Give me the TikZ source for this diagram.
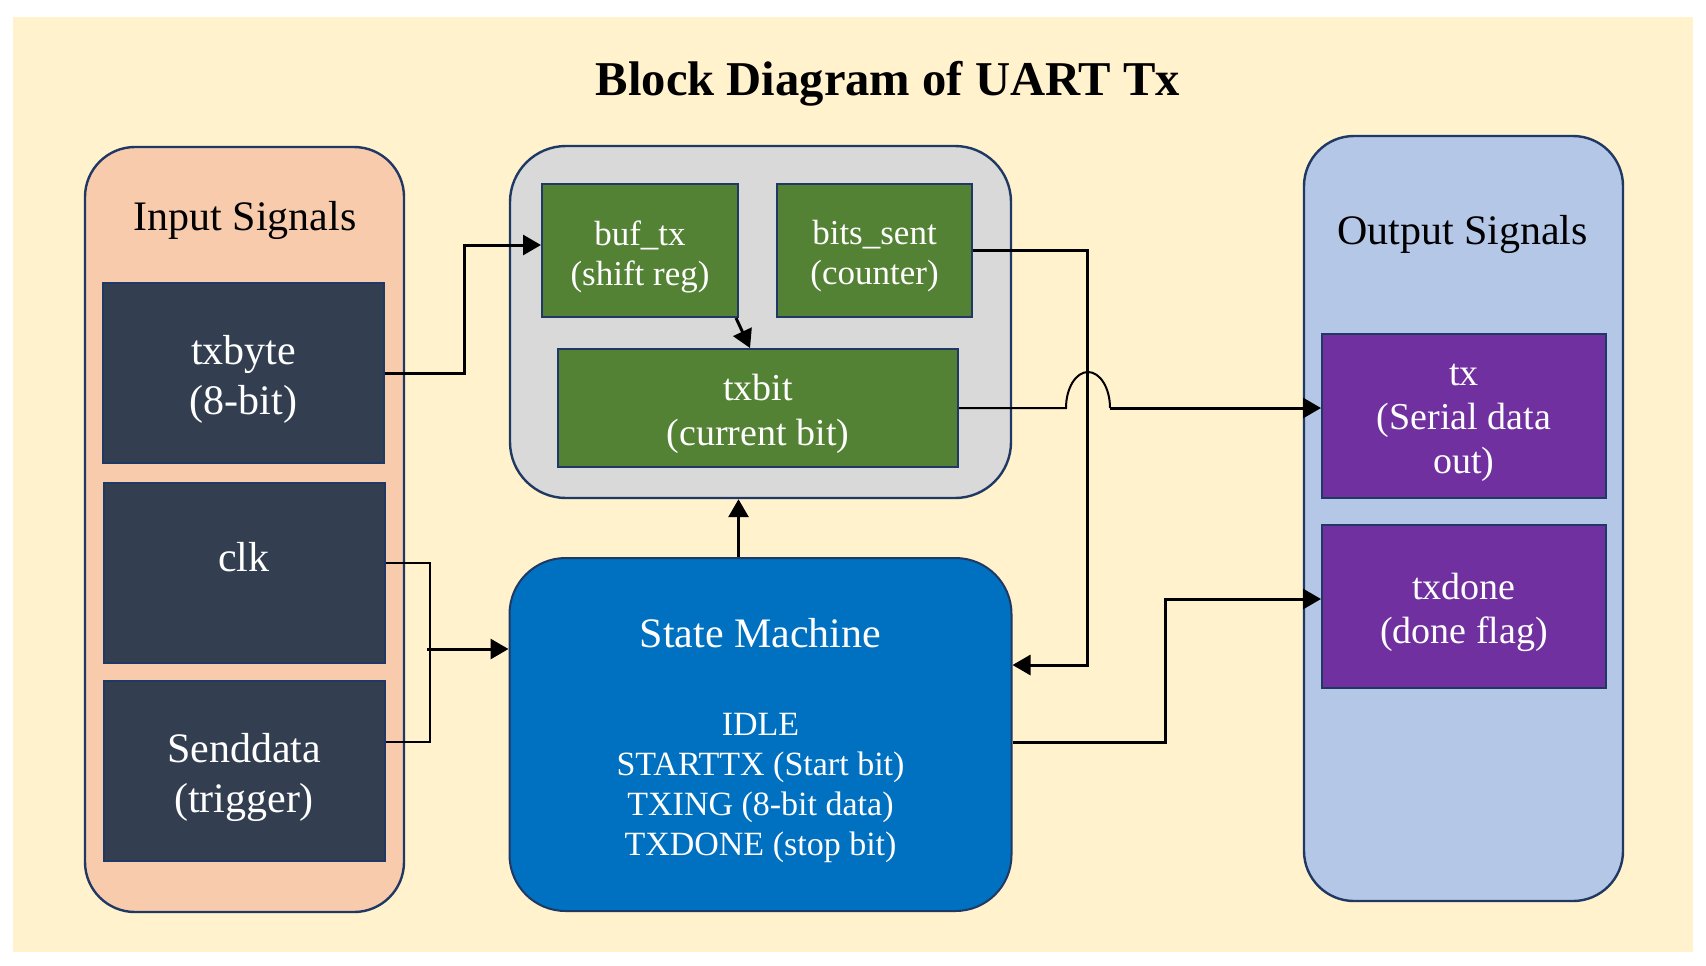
\documentclass[tikz,border=0pt]{standalone}
\usepackage{fontspec}
\setmainfont{Liberation Serif}
\usetikzlibrary{arrows.meta,positioning}

\newdimen\px \px=0.5pt
\definecolor{cream}{HTML}{FFF2CC}
\definecolor{peach}{HTML}{F8CBAD}
\definecolor{slate}{HTML}{333F50}
\definecolor{regbg}{HTML}{D9D9D9}
\definecolor{leaf}{HTML}{548235}
\definecolor{smblue}{HTML}{0070C0}
\definecolor{skyblue}{HTML}{B4C7E7}
\definecolor{violet}{HTML}{7030A0}
\definecolor{navy}{HTML}{1F3864}

\tikzset{
  panel/.style={draw=navy,line width=1.2pt,rounded corners=25pt,inner sep=0pt,
    minimum width=319\px,minimum height=765\px},
  box/.style={draw=navy,line width=1pt,inner sep=0pt},
  lbl/.style={text=white,align=center,yshift=-6\px},
  big/.style={font=\fontsize{21}{25}\selectfont},
  mid/.style={font=\fontsize{19}{22}\selectfont},
  small/.style={font=\fontsize{17.5}{20}\selectfont},
  sig/.style={box,fill=slate,minimum width=281\px,minimum height=180\px},
  reg/.style={box,fill=leaf},
  outsig/.style={box,fill=violet,minimum width=284\px},
  wire/.style={line width=1.5pt,-{Triangle[length=9pt,width=10pt]}},
  thinwire/.style={line width=1pt}
}

\begin{document}
\begin{tikzpicture}[x=0.5pt,y=-0.5pt]
  \useasboundingbox (0,0) rectangle (1706,965);
  \fill[cream] (13,17) rectangle (1693,952);

  \node[anchor=base,font=\fontsize{24.3}{28}\selectfont\bfseries] (head) at (888,95) {Block Diagram of UART Tx};

  % panels
  \node[panel,fill=peach] (inp) at (244.5,529.5) {};
  \node[panel,fill=skyblue] (outp) at (1463.5,518.5) {};
  \node[panel,fill=regbg,rounded corners=28pt,minimum width=501\px,minimum height=352\px] (regs) at (760.5,322) {};

  \node[big,anchor=base] (intitle) at (245,230) {Input Signals};
  \node[big,anchor=base] (outtitle) at (1462.5,244) {Output Signals};

  % input signals
  \node[sig] (txbyte) at (243.5,373) {};
  \node[sig] (clk) at (244,572.5) {};
  \node[sig] (send) at (244,771) {};
  \node[lbl,big] (txbyteL) at (txbyte) {txbyte\\(8-bit)};
  \node[lbl,big,yshift=21\px] (clkL) at (clk) {clk};
  \node[lbl,big] (sendL) at (send) {Senddata\\(trigger)};

  % registers
  \node[reg,minimum width=196\px,minimum height=133\px] (buf) at (640,250.5) {};
  \node[reg,minimum width=195\px,minimum height=133\px] (bits) at (874.5,250.5) {};
  \node[reg,minimum width=400\px,minimum height=118\px] (txbit) at (758,408) {};
  \node[lbl,small] (bufL) at (buf) {buf\_tx\\(shift reg)};
  \node[lbl,small] (bitsL) at (bits) {bits\_sent\\(counter)};
  \node[lbl,mid,font=\fontsize{19}{22.5}\selectfont] (txbitL) at (txbit) {txbit\\(current bit)};

  % state machine
  \node[box,fill=smblue,rounded corners=28pt,minimum width=502\px,minimum height=353\px] (sm) at (760.5,734.5) {};
  \node[lbl,font=\fontsize{17}{20}\selectfont] (smL) at (sm)
    {{\fontsize{21}{24}\selectfont State Machine}\\[24pt]IDLE\\STARTTX (Start bit)\\TXING (8-bit data)\\TXDONE (stop bit)};

  % outputs
  \node[outsig,minimum height=164\px] (tx) at (1464,416) {};
  \node[outsig,minimum height=163\px] (done) at (1464,606.5) {};
  \node[lbl,mid,yshift=-1\px] (txL) at (tx) {tx\\(Serial data\\out)};
  \node[lbl,mid] (doneL) at (done) {txdone\\(done flag)};

  % connections
  \draw[wire] (txbyte.east) -- ++(79,0) |- ([yshift=5.5\px]buf.west);
  \draw[thinwire] ([yshift=9.5\px]clk.east) -- ++(44,0) |- ([yshift=29\px]send.east);
  \draw[wire] ([xshift=-82\px,yshift=85.5\px]sm.west) -- ([yshift=85.5\px]sm.west);
  \draw[wire] ([xshift=-22\px]sm.north) -- ([xshift=-22\px]regs.south);
  \draw[wire] ([xshift=-3\px]buf.south east) -- ([xshift=-8\px]txbit.north);
  \draw[wire] (bits.east) -- ++(114,0) |- ([yshift=69.5\px]sm.east);
  \draw[thinwire] (txbit.east) -- ++(107,0)
    arc[start angle=180,end angle=0,x radius=22\px,y radius=36\px] coordinate (hop);
  \draw[wire] (hop) -- (tx.west |- hop);
  \draw[wire] ([yshift=-7.5\px]sm.east) -- ++(153,0) |- ([yshift=7.5\px]done.west);
\end{tikzpicture}
\end{document}
